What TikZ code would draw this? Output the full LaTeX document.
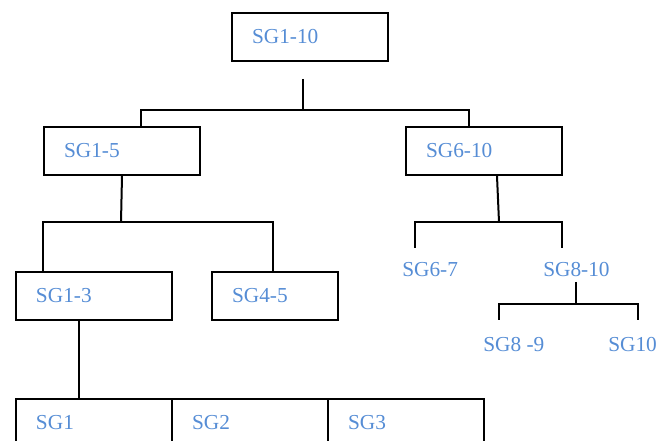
\documentclass[tikz,border=0pt]{standalone}
\usepackage{fontspec}
\setmainfont{Liberation Serif}
\definecolor{sgblue}{RGB}{86,141,213}

\begin{document}
\begin{tikzpicture}[x=0.75pt, y=-0.75pt,
	sgbox/.style={draw, line width=1.5pt, anchor=north west, minimum height=36pt,
		inner xsep=15pt, text width=87pt, align=left, text=sgblue,
		font=\fontsize{16}{19}\selectfont},
	sglabel/.style={anchor=base west, inner sep=0pt, text=sgblue,
		font=\fontsize{16}{19}\selectfont},
	bus/.style={line width=1.5pt}]
		
		\useasboundingbox (0,0) rectangle (667,441);
		\clip (0,0) rectangle (667,441);
		
		% boxes
		\node[sgbox] (sg110) at (231,12) {SG1-10};
		\node[sgbox] (sg15) at (43,126) {SG1-5};
		\node[sgbox] (sg610) at (405,126) {SG6-10};
		\node[sgbox] (sg13) at (15,271) {SG1-3};
		\node[sgbox, text width=64.5pt] (sg45) at (211,271) {SG4-5};
		
		\node[sgbox] (sg1) at (15,398) {SG1};
		\node[sgbox] (sg2) at (171,398) {SG2};
		\node[sgbox] (sg3) at (327,398) {SG3};
		
		% plain labels
		\node[sglabel] (sg67) at (402,277) {SG6-7};
		\node[sglabel] (sg810) at (543,277) {SG8-10};
		\node[sglabel] (sg89) at (483,351) {SG8 -9};
		\node[sglabel] (sg10) at (608,351) {SG10};
		
		% top level
		\coordinate (t0) at (303,79);
		\coordinate (t1) at (303,110);
		\coordinate (tl) at (141,110);
		\coordinate (tr) at (469,110);
		\draw[bus] (t0) -- (t1);
		\draw[bus] (tl |- sg15.north) -- (tl) -- (tr) -- (tr |- sg610.north);
		
		% SG1-5
		\coordinate (l1) at (121,222);
		\coordinate (ll) at (43,222);
		\coordinate (lr) at (273,222);
		\draw[bus] (sg15.south) -- (l1);
		\draw[bus] (ll |- sg13.north) -- (ll) -- (lr) -- (lr |- sg45.north);
		
		% SG1-3
		\coordinate (d1) at (79,398);
		\draw[bus] (d1 |- sg13.south) -- (d1);
		
		% SG6-10
		\coordinate (r0) at (497,174);
		\coordinate (r1) at (499,222);
		\coordinate (rl) at (415,222);
		\coordinate (rr) at (562,222);
		\coordinate (rl2) at (415,248);
		\coordinate (rr2) at (562,248);
		\draw[bus] (r0 |- sg610.south) -- (r1);
		\draw[bus] (rl2) -- (rl) -- (rr) -- (rr2);
		
		% SG8-10
		\coordinate (s0) at (576,282);
		\coordinate (s1) at (576,304);
		\coordinate (sl) at (499,304);
		\coordinate (sr) at (638,304);
		\coordinate (sl2) at (499,320);
		\coordinate (sr2) at (638,320);
		\draw[bus] (s0) -- (s1);
		\draw[bus] (sl2) -- (sl) -- (sr) -- (sr2);
		
\end{tikzpicture}
\end{document}
